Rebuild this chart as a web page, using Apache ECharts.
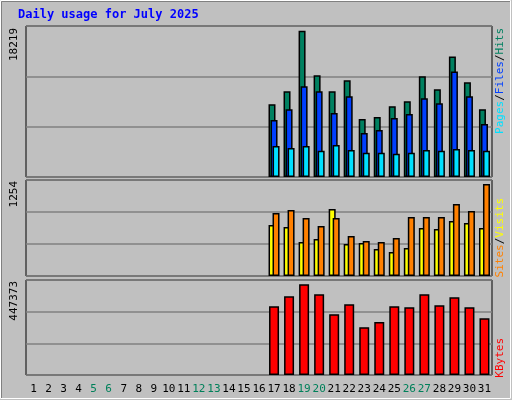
<!DOCTYPE html>
<html><head><meta charset="utf-8">
<script src="https://cdn.jsdelivr.net/npm/echarts@6/dist/echarts.min.js"></script>
<style>html,body{margin:0;padding:0;background:#c0c0c0}#c{width:512px;height:400px}</style>
</head><body><div id="c"></div>
<script>
const days = Array.from({length:31},(_,i)=>String(i+1));
const weekend = ['5','6','12','13','19','20','26','27'];
const N = Array(16).fill(null);
const hits   = N.concat([9067,10675,18219,12654,10675,12035,7211,7459,8820,9438,12530,10923,15004,11788,8448]);
const files  = N.concat([7088,8449,11294,10675,7954,10057,5480,5851,7335,7830,9809,9191,13149,10057,6593]);
const pages  = N.concat([3872,3624,3872,3253,3996,3377,3006,3006,2882,3006,3377,3253,3501,3377,3253]);
const sites  = N.concat([695,668,463,504,913,436,450,368,327,382,654,641,750,722,654]);
const visits = N.concat([859,900,791,682,791,545,477,463,518,804,804,804,981,886,1254]);
const kbytes = N.concat([339000,388000,447373,398000,300000,349000,236000,261000,339000,334000,398000,344000,383000,334000,280000]);
const maxLabels = ['18219','1254','447373'];

const font = 'DejaVu Sans Mono';
const grids = [
  {left:26,right:20,top:26,height:151},
  {left:26,right:20,top:180,height:96},
  {left:26,right:20,top:280,height:95}
].map(g=>Object.assign(g,{show:true,borderColor:'#000',borderWidth:1,backgroundColor:'#c0c0c0'}));
const ymax=[18800,1308,468500];
const xAxis=[0,1,2].map(i=>({gridIndex:i,type:'category',data:days,axisTick:{show:false},axisLine:{show:false},
  axisLabel:i<2?{show:false}:{show:true,interval:0,margin:9,fontFamily:font,fontSize:11,
    formatter:v=>weekend.includes(v)?'{w|'+v+'}':'{n|'+v+'}',
    rich:{w:{color:'#00805a',fontFamily:font,fontSize:11},n:{color:'#000',fontFamily:font,fontSize:11}}}}));
const yAxis=[0,1,2].map(i=>({gridIndex:i,type:'value',min:0,max:ymax[i],interval:ymax[i]/3,
  axisLabel:{show:false},axisLine:{show:false},axisTick:{show:false},splitLine:{lineStyle:{color:'#808080',width:1.5}}}));
const bs={borderColor:'#000',borderWidth:1.5};
function bar(name,data,color,idx,w,gap){return {name,type:'bar',data,xAxisIndex:idx,yAxisIndex:idx,barWidth:w,barGap:gap,
  itemStyle:Object.assign({color},bs),animation:false};}
const series=[
  bar('Hits',hits,'#008060',0,7,'-71%'),
  bar('Files',files,'#0040ff',0,7,'-71%'),
  bar('Pages',pages,'#00e0ff',0,7,'-71%'),
  bar('Sites',sites,'#ffff00',1,7,'-43%'),
  bar('Visits',visits,'#ff8000',1,7,'-43%'),
  bar('KBytes',kbytes,'#ff0000',2,10,'0%')
];
const txt=(x,y,t,rich)=>({type:'text',x,y,rotation:Math.PI/2,style:{text:t,fontFamily:font,fontSize:11,fill:'#000',rich,align:'right',verticalAlign:'middle'}});
const R=(c)=>({fill:c,fontFamily:font,fontSize:11});
const chart=echarts.init(document.getElementById('c'));
chart.setOption({
  backgroundColor:'#c0c0c0',animation:false,
  grid:grids,xAxis,yAxis,series,
  graphic:[
    {type:'rect',shape:{x:0.5,y:0.5,width:510,height:398},style:{fill:'none',stroke:'#fff',lineWidth:1}},
    {type:'rect',shape:{x:1.5,y:1.5,width:509,height:397},style:{fill:'none',stroke:'#808080',lineWidth:1},z:-1},
    {type:'text',left:18,top:9,style:{text:'Daily usage for July 2025',fontFamily:font,fontWeight:'bold',fontSize:12,fill:'#0000ff'}},
    txt(14,28,maxLabels[0]),
    txt(14,181,maxLabels[1]),
    txt(14,281,maxLabels[2]),
    txt(500,28,'{p|Pages}/{f|Files}/{h|Hits}',{h:R('#008060'),f:R('#0040ff'),p:R('#00e0ff')}),
    txt(500,198,'{s|Sites}/{v|Visits}',{v:R('#ffff00'),s:R('#ff8000')}),
    txt(500,338,'{k|KBytes}',{k:R('#ff0000')})
  ]
});
</script></body></html>
